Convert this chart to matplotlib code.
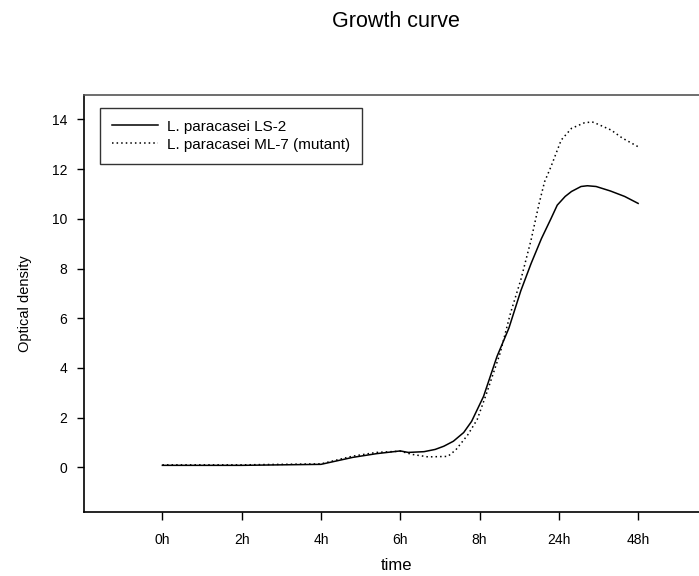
#!/usr/bin/env python3
"""
Growth curve: L. paracasei LS-2 vs ML-7 (mutant), optical density over time.
Saves out.png
"""

import matplotlib.pyplot as plt

# time axis is categorical, positions are index units between the labels
time_labels = ["0h", "2h", "4h", "6h", "8h", "24h", "48h"]

ls2_t = [0.0, 1.0, 2.0, 2.4, 2.7, 3.0, 3.1, 3.3, 3.44, 3.55, 3.67, 3.8, 3.9,
         4.05, 4.22, 4.37, 4.52, 4.65, 4.78, 4.9, 4.98, 5.08, 5.16, 5.28,
         5.36, 5.47, 5.65, 5.83, 6.0]
ls2_od = [0.08, 0.08, 0.12, 0.4, 0.55, 0.66, 0.6, 0.63, 0.72, 0.85, 1.05,
          1.4, 1.85, 2.85, 4.46, 5.6, 7.1, 8.2, 9.2, 10.0, 10.55, 10.9, 11.1,
          11.3, 11.33, 11.3, 11.12, 10.9, 10.62]

ml7_t = [0.0, 1.0, 2.0, 2.4, 2.7, 3.0, 3.15, 3.35, 3.6, 3.7, 3.85, 3.97,
         4.09, 4.26, 4.39, 4.52, 4.65, 4.75, 4.82, 4.9, 5.03, 5.16, 5.32,
         5.42, 5.49, 5.66, 5.8, 6.0]
ml7_od = [0.1, 0.1, 0.14, 0.45, 0.6, 0.65, 0.52, 0.42, 0.44, 0.7, 1.3, 1.92,
          2.99, 4.6, 6.2, 7.54, 9.15, 10.6, 11.49, 12.09, 13.17, 13.64, 13.86,
          13.9, 13.81, 13.57, 13.25, 12.9]

plt.rcParams["font.family"] = ["Liberation Sans", "DejaVu Sans"]


def main():
    fig = plt.figure(figsize=(6.99, 5.76), dpi=100)
    ax = fig.add_axes([0.120, 0.111, 0.895, 0.724])

    ax.plot(ls2_t, ls2_od, color="black", lw=1.1, ls="-",
            label="L. paracasei LS-2")
    ax.plot(ml7_t, ml7_od, color="black", lw=1.1, ls=(0, (1, 2)),
            label="L. paracasei ML-7 (mutant)")

    ax.set_xlim(-0.99, 6.9)
    ax.set_ylim(-1.8, 14.98)
    ax.set_xticks(range(len(time_labels)))
    ax.set_xticklabels(time_labels)
    ax.set_yticks(range(0, 15, 2))

    ax.spines["right"].set_visible(False)
    ax.spines["top"].set_color("#555555")
    for s in ("left", "bottom", "top"):
        ax.spines[s].set_linewidth(1.2)
    ax.tick_params(axis="x", direction="out", length=6, width=1,
                   pad=9, labelsize=10)
    ax.tick_params(axis="y", direction="out", length=5, width=1,
                   pad=7, labelsize=10)

    ax.set_xlabel("time", fontsize=12, labelpad=8)
    ax.set_ylabel("Optical density", fontsize=10.5, labelpad=14)

    fig.text(0.567, 0.962, "Growth curve", ha="center", va="center",
             fontsize=15.5)

    leg = ax.legend(loc="upper left", bbox_to_anchor=(0.025, 0.97),
                    fontsize=11, frameon=True, fancybox=False,
                    handlelength=3.0, handletextpad=0.6, borderpad=0.8,
                    labelspacing=0.25, borderaxespad=0.0)
    leg.get_frame().set_edgecolor("black")
    leg.get_frame().set_linewidth(1.0)

    fig.savefig("out.png", dpi=100)
    plt.close(fig)


if __name__ == "__main__":
    main()
